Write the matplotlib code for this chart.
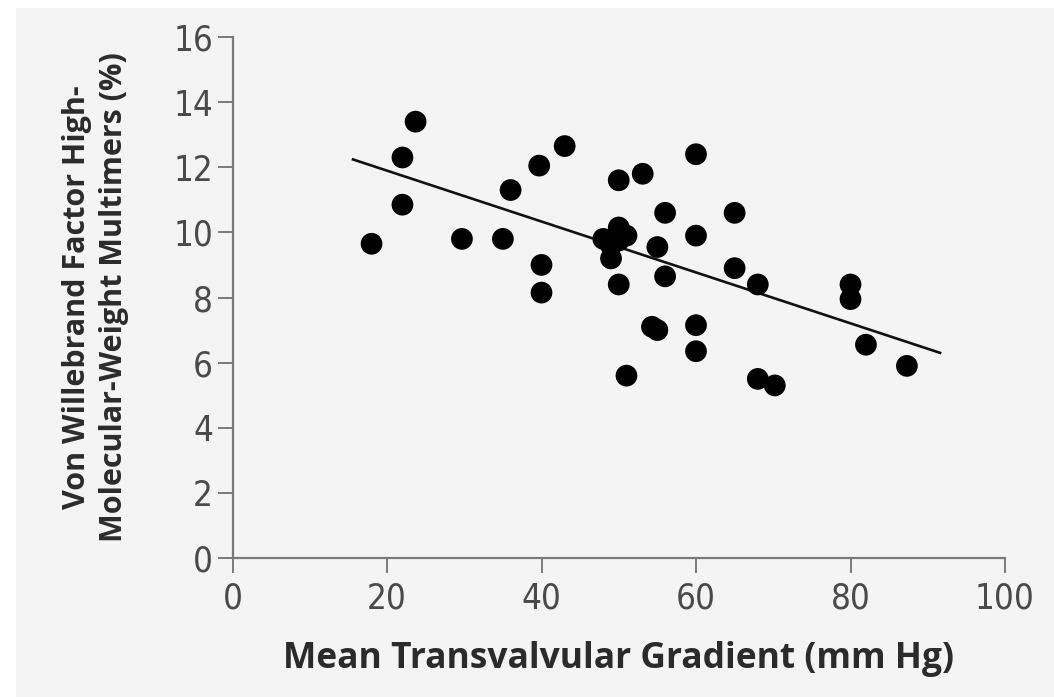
import matplotlib
matplotlib.use("Agg")
import matplotlib.pyplot as plt
from matplotlib.patches import Rectangle
from matplotlib import font_manager as fm

# Data
gradient = [18, 22, 22, 23.7, 29.7, 35, 36, 39.7, 40, 40, 43,
            48, 49, 49, 50, 50, 51, 50, 53.1, 50, 51,
            55, 56, 56, 54.3, 55, 60, 60, 60, 60, 65, 65,
            68, 68, 70.2, 80, 80, 82, 87.3]
multimers = [9.65, 12.3, 10.85, 13.4, 9.8, 9.8, 11.3, 12.05, 9.0, 8.15, 12.65,
             9.8, 9.6, 9.2, 10.15, 9.75, 9.9, 11.6, 11.8, 8.4, 5.6,
             9.55, 10.6, 8.65, 7.1, 7.0, 12.4, 9.9, 7.15, 6.35, 10.6, 8.9,
             8.4, 5.5, 5.3, 8.4, 7.95, 6.55, 5.9]
fit_x = [15.6, 91.6]
fit_y = [12.24, 6.3]

x_ticks = [0, 20, 40, 60, 80, 100]
y_ticks = [0, 2, 4, 6, 8, 10, 12, 14, 16]

# pick a condensed font for the tick numbers if one is installed
tick_prop = None
for f in fm.fontManager.ttflist:
    nm = f.name.lower()
    fn = f.fname.lower()
    if ("narrow" in nm or "condensed" in nm or "condensed" in fn or "narrow" in fn) \
            and f.style == "normal" and f.weight in (400, "normal", "regular"):
        tick_prop = fm.FontProperties(fname=f.fname)
        break
if tick_prop is None:
    tick_prop = fm.FontProperties(family="DejaVu Sans", stretch="condensed")

W, H = 1054, 697
fig = plt.figure(figsize=(W / 100, H / 100), dpi=100, facecolor="white")
fig.patches.append(Rectangle((16 / W, 0), 1 - 16 / W, 1 - 8 / H,
                             transform=fig.transFigure, facecolor="#f4f4f4",
                             edgecolor="none", zorder=-10))

ax = fig.add_axes([232.5 / W, 1 - 558 / H, (1005 - 232.5) / W, (558 - 37) / H])
ax.set_facecolor("none")

ax.scatter(gradient, multimers, s=245, color="black", edgecolors="none", zorder=3,
           clip_on=False)
ax.plot(fit_x, fit_y, color="#111111", lw=1.9, zorder=2)

ax.set_xlim(0, 100)
ax.set_ylim(0, 16)
ax.set_xticks(x_ticks)
ax.set_yticks(y_ticks)

axis_col = "#7a7a7a"
for side in ["top", "right"]:
    ax.spines[side].set_visible(False)
for side in ["left", "bottom"]:
    ax.spines[side].set_color(axis_col)
    ax.spines[side].set_linewidth(1.6)
ax.tick_params(axis="both", color=axis_col, width=1.4, length=11,
               labelcolor="#4a4a4a")
ax.tick_params(axis="x", pad=6)
ax.tick_params(axis="y", pad=3)

for lab in ax.get_xticklabels() + ax.get_yticklabels():
    lab.set_fontproperties(tick_prop)
    lab.set_fontsize(25)

label_font = ["Open Sans", "DejaVu Sans"]
ax.set_xlabel("Mean Transvalvular Gradient (mm Hg)", fontsize=25.5, fontweight="bold",
              family=label_font, color="#2b2b2b", labelpad=18)
ax.set_ylabel("Von Willebrand Factor High-\nMolecular-Weight Multimers (%)", fontsize=22,
              fontweight="bold", family=label_font, color="#2b2b2b",
              labelpad=32, linespacing=1.3)

fig.savefig("out.png", dpi=100, facecolor=fig.get_facecolor())
